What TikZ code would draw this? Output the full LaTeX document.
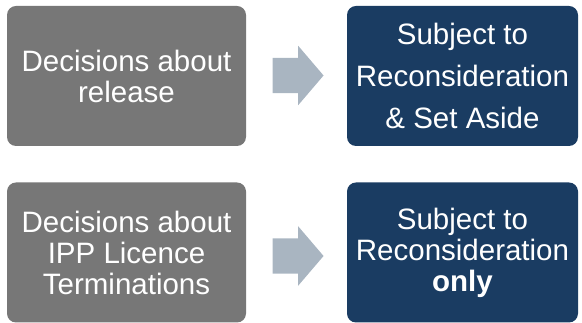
\documentclass[tikz,border=0pt]{standalone}
\usepackage{fontspec}
\setmainfont{Liberation Sans}
\usepackage{xcolor}
\usepackage{tikz}
\usetikzlibrary{shapes.arrows}

\definecolor{decgray}{HTML}{777777}
\definecolor{outnavy}{HTML}{1A3C62}
\definecolor{arrowgray}{HTML}{A9B5C1}

\begin{document}
\begin{tikzpicture}[x=1pt, y=1pt,
    box/.style = {
        rectangle, rounded corners=9pt, minimum height=140pt, inner sep=0pt,
        align=center, text=white, font=\fontsize{29.5}{31}\selectfont
    },
    decision/.style = {box, fill=decgray, minimum width=239pt},
    outcome/.style = {box, fill=outnavy, minimum width=231pt},
    blockarrow/.style = {
        single arrow, fill=arrowgray, inner sep=0pt,
        text width=0pt, text height=17.5pt, text depth=17.5pt,
        minimum height=51pt,
        single arrow head extend=12pt, single arrow tip angle=99
    }
]
\useasboundingbox (0,0) rectangle (582,323);

% Row 1 ── release
\node[decision]  (rel)    at (126.5, 247)   {Decisions about\\release};
\node[blockarrow] (relarr) at (290.5, 247.5) {};
\node[outcome]   (setasd) at (462.5, 247)   {Subject to\\[11pt]Reconsideration\\[11pt]\& Set Aside};

% Row 2 ── licence terminations
\node[decision]  (ipp)    at (126.5, 70.5)  {Decisions about\\IPP Licence\\Terminations};
\node[blockarrow] (ipparr) at (290.5, 67)    {};
\node[outcome]   (reconly) at (462.5, 70.5) {Subject to\\Reconsideration\\\textbf{only}};

\end{tikzpicture}
\end{document}
